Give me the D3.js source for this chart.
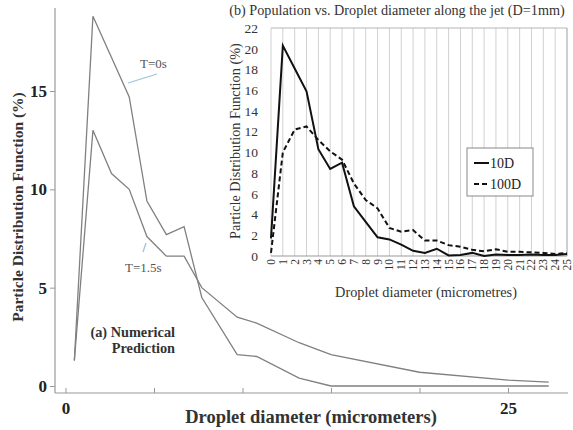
<!DOCTYPE html>
<html lang="en">
  <head>
    <title>Droplet distribution</title>
    <script src="https://d3js.org/d3.v7.min.js"></script>
    <style>
      body { margin: 0; background: #fff; }
      text { font-family: 'Liberation Serif', 'Times New Roman', serif; }
    </style>
  </head>
  <body>
    <div id='chart'></div>
    <script type='text/javascript'>
      // (a) numerical prediction, main plot
      let mainX = [0.5, 1.55, 2.6, 3.6, 4.6, 5.7, 6.7, 7.7, 9.7, 10.8, 13.2, 15, 20, 25, 27.3]
      let t0 = [1.3, 18.8, 16.7, 14.7, 9.4, 7.7, 8.1, 4.5, 1.6, 1.5, 0.4, 0, 0, 0, 0]
      let t15 = [1.3, 13.0, 10.8, 10.0, 7.6, 6.6, 6.6, 5.0, 3.5, 3.2, 2.2, 1.6, 0.7, 0.3, 0.2]
      let mainXTicks = [0, 5, 10, 15, 20, 25]
      let mainXLabels = ['0', '', '', '', '', '25']
      let mainYTicks = [0, 5, 10, 15]

      // (b) inset, measured along the jet
      let sizes = d3.range(26)
      let d10 = [1.7, 20.3, 18.1, 15.9, 10.3, 8.4, 9.0, 4.8, 3.3, 1.8, 1.6, 1.1, 0.5, 0.3, 0.7, 0.05,
                 0.1, 0.3, 0.0, 0.15, 0.1, 0.1, 0.15, 0.1, 0.1, 0.2]
      let d100 = [0.3, 10.0, 12.2, 12.5, 11.2, 10.1, 9.3, 7.0, 5.4, 4.6, 2.7, 2.35, 2.5, 1.5, 1.5, 1.05,
                  0.9, 0.6, 0.45, 0.65, 0.4, 0.4, 0.35, 0.3, 0.2, 0.3]
      let insetYTicks = d3.range(0, 23, 2)

      let svg = d3.select('#chart').append('svg')
        .attr('width', 573)
        .attr('height', 430)

      let x = d3.scaleLinear().domain([0, 25]).range([65.5, 508])
      let y = d3.scaleLinear().domain([0, 15]).range([386, 91])

      let grey = '#808080'

      // main axes
      svg.append('line').attr('x1', 55).attr('x2', 568).attr('y1', 393).attr('y2', 393)
        .attr('stroke', '#999').attr('stroke-width', 1.2)
      svg.append('line').attr('x1', 55).attr('x2', 55).attr('y1', 8).attr('y2', 393)
        .attr('stroke', '#999').attr('stroke-width', 1.2)

      let xAxis = svg.append('g')
        .attr('transform', 'translate(0,393)')
        .call(d3.axisBottom(x).tickValues(mainXTicks).tickSize(-5).tickPadding(9)
          .tickFormat((d, i) => mainXLabels[i]))
      xAxis.select('.domain').remove()
      xAxis.selectAll('line').attr('stroke', '#999')
      xAxis.selectAll('text').attr('font-size', 17).attr('font-weight', 'bold').attr('fill', '#222')
        .style('font-family', "'Liberation Serif', serif")

      let yAxis = svg.append('g')
        .attr('transform', 'translate(55,0)')
        .call(d3.axisLeft(y).tickValues(mainYTicks).tickSize(5).tickPadding(3))
      yAxis.select('.domain').remove()
      yAxis.selectAll('line').attr('stroke', '#999')
      yAxis.selectAll('text').attr('font-size', 17).attr('font-weight', 'bold').attr('fill', '#222')
        .style('font-family', "'Liberation Serif', serif")

      svg.append('text')
        .attr('transform', 'translate(23,207) rotate(-90)')
        .attr('text-anchor', 'middle')
        .attr('font-size', 15.5).attr('font-weight', 'bold').attr('fill', '#333')
        .text('Particle Distribution Function (%)')

      svg.append('text')
        .attr('x', 311).attr('y', 423)
        .attr('text-anchor', 'middle')
        .attr('font-size', 18.5).attr('font-weight', 'bold').attr('fill', '#333')
        .text('Droplet diameter (micrometers)')

      let mainLine = d3.line().x((d, i) => x(mainX[i])).y(d => y(d))
      svg.append('path').datum(t0).attr('d', mainLine)
        .attr('fill', 'none').attr('stroke', grey).attr('stroke-width', 1.3)
      svg.append('path').datum(t15).attr('d', mainLine)
        .attr('fill', 'none').attr('stroke', grey).attr('stroke-width', 1.3)

      // curve labels + pointers
      svg.append('line').attr('x1', 128).attr('y1', 83).attr('x2', 157).attr('y2', 74)
        .attr('stroke', '#9cc4da').attr('stroke-width', 1.3)
      svg.append('text').attr('x', 140).attr('y', 68).attr('font-size', 13).attr('fill', '#555').text('T=0s')
      svg.append('line').attr('x1', 146).attr('y1', 243).attr('x2', 143).attr('y2', 252)
        .attr('stroke', '#9cc4da').attr('stroke-width', 1.3)
      svg.append('text').attr('x', 125).attr('y', 272).attr('font-size', 13).attr('fill', '#555').text('T=1.5s')

      svg.append('text').attr('x', 175).attr('y', 337).attr('text-anchor', 'end')
        .attr('font-size', 14.3).attr('font-weight', 'bold').attr('fill', '#333').text('(a) Numerical')
      svg.append('text').attr('x', 175).attr('y', 353).attr('text-anchor', 'end')
        .attr('font-size', 14.3).attr('font-weight', 'bold').attr('fill', '#333').text('Prediction')

      // ---- inset (b) ----
      let xi = d3.scalePoint().domain(sizes).range([271, 567])
      let yi = d3.scaleLinear().domain([0, 22]).range([256, 28])

      let inset = svg.append('g')

      inset.selectAll('.grid').data(sizes).enter().append('line')
        .attr('class', 'grid')
        .attr('x1', d => xi(d)).attr('x2', d => xi(d))
        .attr('y1', yi(22)).attr('y2', yi(0))
        .attr('stroke', '#d0d0d0').attr('stroke-width', 1)
      inset.append('line').attr('x1', xi(0)).attr('x2', xi(25)).attr('y1', yi(22)).attr('y2', yi(22))
        .attr('stroke', '#b5b5b5')
      inset.append('line').attr('x1', xi(25)).attr('x2', xi(25)).attr('y1', yi(22)).attr('y2', yi(0))
        .attr('stroke', '#b5b5b5')
      inset.append('line').attr('x1', xi(0)).attr('x2', xi(25)).attr('y1', yi(0)).attr('y2', yi(0))
        .attr('stroke', '#999')

      let yiAxis = inset.append('g')
        .attr('transform', 'translate(271,0)')
        .call(d3.axisLeft(yi).tickValues(insetYTicks).tickSize(0).tickPadding(13))
      yiAxis.select('.domain').remove()
      yiAxis.selectAll('text').attr('font-size', 13.5).attr('fill', '#333')
        .style('font-family', "'Liberation Serif', serif")

      inset.selectAll('.xlab').data(sizes).enter().append('text')
        .attr('class', 'xlab')
        .attr('transform', d => 'translate(' + (xi(d) + 4) + ',259) rotate(-90)')
        .attr('text-anchor', 'end')
        .attr('font-size', 11.5).attr('fill', '#333')
        .text(d => d)

      inset.append('text')
        .attr('transform', 'translate(240,141) rotate(-90)')
        .attr('text-anchor', 'middle')
        .attr('font-size', 14.3).attr('fill', '#333')
        .text('Particle Distribution Function (%)')

      inset.append('text')
        .attr('x', 426).attr('y', 297)
        .attr('text-anchor', 'middle')
        .attr('font-size', 14.3).attr('fill', '#333')
        .text('Droplet diameter (micrometres)')

      inset.append('text')
        .attr('x', 397).attr('y', 15)
        .attr('text-anchor', 'middle')
        .attr('font-size', 14.2).attr('fill', '#333')
        .text('(b) Population vs. Droplet diameter along the jet (D=1mm)')

      let insetLine = d3.line().x((d, i) => xi(sizes[i])).y(d => yi(d))
      inset.append('path').datum(d100).attr('d', insetLine)
        .attr('fill', 'none').attr('stroke', '#111').attr('stroke-width', 2)
        .attr('stroke-dasharray', '5,3')
      inset.append('path').datum(d10).attr('d', insetLine)
        .attr('fill', 'none').attr('stroke', '#111').attr('stroke-width', 2)

      // legend
      let legend = inset.append('g')
      legend.append('rect').attr('x', 467).attr('y', 148).attr('width', 66).attr('height', 48)
        .attr('fill', '#fff').attr('stroke', '#888')
      let legendItems = [{name: '10D', dash: null}, {name: '100D', dash: '5,3'}]
      legendItems.forEach((d, i) => {
        legend.append('line').attr('x1', 474).attr('x2', 489)
          .attr('y1', 163 + i * 21).attr('y2', 163 + i * 21)
          .attr('stroke', '#111').attr('stroke-width', 2)
          .attr('stroke-dasharray', d.dash)
        legend.append('text').attr('x', 490).attr('y', 168 + i * 21)
          .attr('font-size', 14).attr('fill', '#222').text(d.name)
      })
    </script>
  </body>
</html>
